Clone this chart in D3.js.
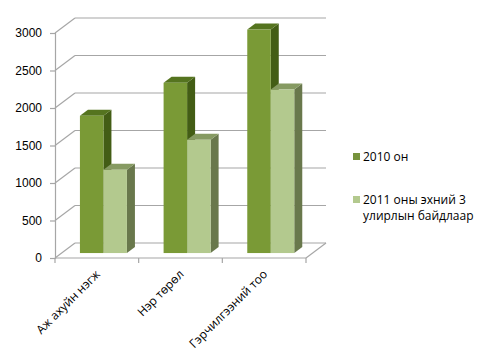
<!DOCTYPE html>
<html>
<head>
<meta charset="utf-8">
<script src="https://cdnjs.cloudflare.com/ajax/libs/d3/7.8.5/d3.min.js"></script>
<style>
  body { margin: 0; background: #fff; }
  svg { font-family: "Open Sans", "Noto Sans", sans-serif; }
</style>
</head>
<body>
<svg id="chart" width="480" height="364"></svg>
<script>
// Chart data
var categories = ['Аж ахуйн нэгж', 'Нэр төрөл', 'Гэрчилгээний тоо'];
var seriesNames = ['2010 он', '2011 оны эхний 3 улирлын байдлаар'];
var values2010 = [1830, 2270, 2980];
var values2011 = [1110, 1510, 2180];
var yTicks = [0, 500, 1000, 1500, 2000, 2500, 3000];

// Colours for each series: front, top, side
var colors = [
  { front: '#7a9a36', top: '#55741f', side: '#435d15', legend: '#77933c' },
  { front: '#b3c98e', top: '#869a62', side: '#69784c', legend: '#b3c98e' }
];

// Layout
var x0 = 55, x1 = 306;
var yBottom = 258, yTop = 33;
var depthX = 20, depthY = -15;   // 3D depth offset of the back wall
var barZ = 0.33, barDepth = 0.4; // bar placement inside the depth

var svg = d3.select('#chart');

var xScale = d3.scaleBand()
  .domain(categories)
  .range([x0, x1])
  .paddingInner(0)
  .paddingOuter(0);

var xSub = d3.scaleBand()
  .domain([0, 1])
  .range([0, xScale.bandwidth()])
  .paddingInner(0)
  .paddingOuter(0.78);

var yScale = d3.scaleLinear()
  .domain([0, 3000])
  .range([yBottom, yTop]);

var grid = '#a6a6a6';

// Back wall gridlines and left wall diagonals
yTicks.forEach(function(t) {
  var y = yScale(t);
  svg.append('line')
    .attr('x1', x0).attr('y1', y)
    .attr('x2', x0 + depthX).attr('y2', y + depthY)
    .attr('stroke', grid).attr('stroke-width', 1.2);
  svg.append('line')
    .attr('x1', x0 + depthX).attr('y1', y + depthY)
    .attr('x2', x1 + depthX).attr('y2', y + depthY)
    .attr('stroke', grid).attr('stroke-width', 1.2);
});

// Floor right edge
svg.append('line')
  .attr('x1', x1).attr('y1', yBottom)
  .attr('x2', x1 + depthX).attr('y2', yBottom + depthY)
  .attr('stroke', grid).attr('stroke-width', 1.2);

// Y axis (front)
var yAxis = d3.axisLeft(yScale).tickValues(yTicks).tickFormat(d3.format('d'))
  .tickSize(5).tickPadding(8);
var gy = svg.append('g')
  .attr('transform', 'translate(' + x0 + ',0)')
  .call(yAxis);
gy.select('.domain').attr('stroke', grid).attr('stroke-width', 1.2);
gy.selectAll('.tick line').attr('stroke', grid).attr('stroke-width', 1.2);
gy.selectAll('.tick text')
  .attr('fill', '#000')
  .style('font-size', '12px');

// X axis (front floor edge)
svg.append('line')
  .attr('x1', x0).attr('y1', yBottom)
  .attr('x2', x1).attr('y2', yBottom)
  .attr('stroke', grid).attr('stroke-width', 1.2);
var xTickPos = categories.map(function(c) { return xScale(c); }).concat([x1]);
xTickPos.forEach(function(x) {
  svg.append('line')
    .attr('x1', x).attr('y1', yBottom)
    .attr('x2', x).attr('y2', yBottom + 5)
    .attr('stroke', grid).attr('stroke-width', 1.2);
});

// Category labels, rotated
categories.forEach(function(c) {
  var cx = xScale(c) + xScale.bandwidth() / 2 + 4;
  svg.append('text')
    .attr('transform', 'translate(' + cx + ',' + (yBottom + 17) + ') rotate(-45)')
    .attr('text-anchor', 'end')
    .style('font-size', '12px')
    .attr('fill', '#000')
    .text(c);
});

// 3D bars
var fx = depthX * barZ, fy = depthY * barZ;
var bdx = depthX * barDepth, bdy = depthY * barDepth;

categories.forEach(function(c, i) {
  [values2010[i], values2011[i]].forEach(function(v, s) {
    var xl = xScale(c) + xSub(s) + fx;
    var w = xSub.bandwidth();
    var yt = yScale(v) + fy;
    var yb = yScale(0) + fy;
    var col = colors[s];
    // side face
    svg.append('path')
      .attr('d', 'M' + (xl + w) + ',' + yt + 'L' + (xl + w + bdx) + ',' + (yt + bdy) +
                 'L' + (xl + w + bdx) + ',' + (yb + bdy) + 'L' + (xl + w) + ',' + yb + 'Z')
      .attr('fill', col.side);
    // top face
    svg.append('path')
      .attr('d', 'M' + xl + ',' + yt + 'L' + (xl + bdx) + ',' + (yt + bdy) +
                 'L' + (xl + w + bdx) + ',' + (yt + bdy) + 'L' + (xl + w) + ',' + yt + 'Z')
      .attr('fill', col.top);
    // front face
    svg.append('rect')
      .attr('x', xl).attr('y', yt)
      .attr('width', w).attr('height', yb - yt)
      .attr('fill', col.front);
  });
});

// Legend
var legendY = [157, 200];
seriesNames.forEach(function(name, s) {
  svg.append('rect')
    .attr('x', 353).attr('y', legendY[s] - 4)
    .attr('width', 7).attr('height', 7)
    .attr('fill', colors[s].legend);
  var lines = s === 1 ? ['2011 оны эхний 3', 'улирлын байдлаар'] : [name];
  lines.forEach(function(l, k) {
    svg.append('text')
      .attr('x', 363).attr('y', legendY[s] + 4 + k * 16)
      .style('font-size', '12px')
      .attr('fill', '#000')
      .text(l);
  });
});
</script>
</body>
</html>
